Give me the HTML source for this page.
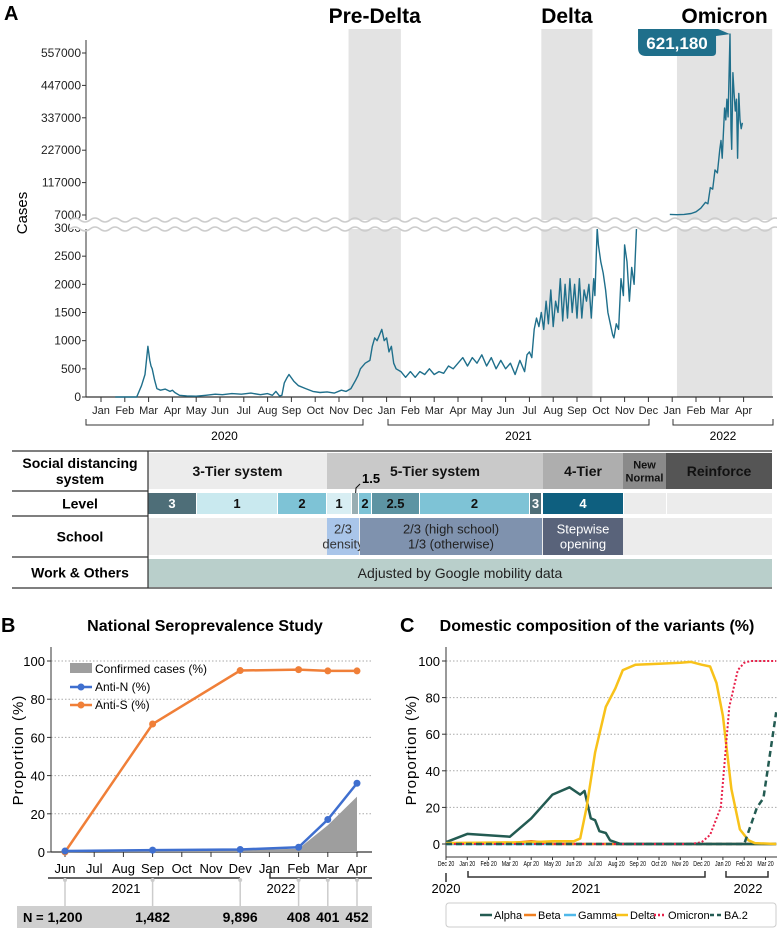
<!DOCTYPE html>
<html><head><meta charset="utf-8">
<style>
body{margin:0;background:#fff;}
svg{display:block;font-family:"Liberation Sans Narrow","Liberation Sans",sans-serif;}
.b{font-weight:bold;}
</style></head>
<body>
<svg id="fig" width="777" height="928" viewBox="0 0 777 928">
</svg>
<script>
// ---------- Panel A data ----------
const monthLabelsA = ["Jan","Feb","Mar","Apr","May","Jun","Jul","Aug","Sep","Oct","Nov","Dec","Jan","Feb","Mar","Apr","May","Jun","Jul","Aug","Sep","Oct","Nov","Dec","Jan","Feb","Mar","Apr"];
const lowTicks = [0,500,1000,1500,2000,2500,3000];
const highTicks = [7000,117000,227000,337000,447000,557000];
const casesLowIdx = [0.6,1.5,1.7,1.85,1.97,2.05,2.1,2.15,2.25,2.35,2.5,2.7,2.9,3.0,3.1,3.3,3.6,4.0,4.4,4.8,5.1,5.5,5.9,6.3,6.7,7.0,7.2,7.35,7.5,7.6,7.7,7.8,7.9,8.1,8.3,8.6,8.9,9.2,9.5,9.8,10.1,10.3,10.5,10.7,10.8,10.9,11.1,11.3,11.4,11.5,11.6,11.7,11.8,11.9,12.0,12.1,12.2,12.3,12.4,12.6,12.8,13.0,13.2,13.4,13.6,13.8,14.0,14.2,14.4,14.6,14.8,15.0,15.2,15.4,15.6,15.8,16.0,16.2,16.4,16.6,16.8,17.0,17.2,17.4,17.6,17.8,17.9,18.0,18.1,18.2,18.3,18.4,18.5,18.6,18.7,18.8,18.9,19.0,19.1,19.2,19.3,19.4,19.5,19.6,19.7,19.8,19.9,20.0,20.1,20.2,20.3,20.4,20.5,20.6,20.7,20.75,20.85,20.9,21.0,21.1,21.2,21.3,21.4,21.5,21.55,21.65,21.75,21.85,21.95,22.0,22.1,22.2,22.3,22.4,22.5];
const casesLowVal = [0,0,200,400,900,650,550,500,300,150,120,140,100,120,80,30,20,15,30,50,40,60,50,70,40,60,30,100,20,30,250,330,400,280,200,150,100,80,90,70,120,100,150,300,380,500,600,650,900,1050,1000,1100,1200,1000,1050,800,900,600,500,450,350,450,350,450,400,500,400,450,420,550,500,600,700,550,700,600,750,550,700,500,650,500,600,400,650,450,750,800,700,1200,1400,1250,1500,1200,1700,1300,1900,1250,1700,1500,2100,1350,2000,1400,2100,1500,2000,1400,2100,1400,1900,1700,2000,1400,2100,1800,3000,2700,2400,2200,1900,1500,1300,1100,1050,1300,1200,2100,1800,2700,2400,1700,2300,2000,3000];
const casesHighIdx = [23.9,24.2,24.5,24.8,25.0,25.2,25.4,25.5,25.6,25.7,25.8,25.9,26.0,26.05,26.1,26.2,26.25,26.3,26.35,26.43,26.47,26.5,26.55,26.6,26.65,26.7,26.75,26.8,26.85,26.9,26.95];
const casesHighVal = [9000,8000,9000,12000,18000,30000,50000,45000,100000,95000,160000,150000,230000,260000,200000,370000,330000,400000,340000,621180,300000,230000,490000,420000,360000,400000,200000,420000,330000,300000,320000];

// ---------- Panel B data ----------
const monthLabelsB = ["Jun","Jul","Aug","Sep","Oct","Nov","Dev","Jan","Feb","Mar","Apr"];
const surveyIdx = [0,3,6,8,9,10];
const antiS = [0,67,95,95.5,94.8,94.8];
const antiN = [0.5,1,1.3,2.5,17,36];
const confirmed = [0,0.5,1,1.7,14,29];
const sampleN = ["1,200","1,482","9,896","408","401","452"];
const yTicksB = [0,20,40,60,80,100];

// ---------- Panel C data ----------
const monthLabelsC = ["Dec 20","Jan 20","Feb 20","Mar 20","Apr 20","May 20","Jun 20","Jul 20","Aug 20","Sep 20","Oct 20","Nov 20","Dec 20","Jan 20","Feb 20","Mar 20"];
const alphaIdx = [0,1,3,4,5,5.8,6.3,6.5,6.8,7,7.2,7.5,7.7,8.2,15.5];
const alphaVal = [1,5.5,4,14,27,31,27,29,14,13,7,6,2,0,0];
const betaIdx = [0,3,4,4.5,5,15.5];
const betaVal = [0.5,0.5,1.5,1,0,0];
const gammaIdx = [0,15.5];
const gammaVal = [0,0];
const deltaIdx = [0,4,5,6,6.3,6.6,7.0,7.5,7.95,8.3,8.9,10,11,11.5,12,12.4,12.7,13,13.4,13.8,14.2,14.5,15.5];
const deltaVal = [0.5,1,1.5,1.5,3,20,50,75,85,95,98,98.5,99,99.5,98,97,88,70,30,8,2,0.5,0];
const omicronIdx = [0,11.5,12,12.4,12.9,13.3,13.7,14.0,14.3,15.5];
const omicronVal = [0,0,1,5,20,75,95,99,100,100];
const ba2Idx = [0,14.0,14.3,14.6,14.9,15.5];
const ba2Val = [0,0,10,20,25,72];
const yTicksC = [0,20,40,60,80,100];

const NS="http://www.w3.org/2000/svg";
const svg=document.getElementById('fig');
function mk(tag,attrs,parent){const e=document.createElementNS(NS,tag);for(const k in attrs)e.setAttribute(k,attrs[k]);(parent||svg).appendChild(e);return e;}
function txt(s,x,y,attrs,parent){const e=mk('text',Object.assign({x:x,y:y},attrs||{}),parent);e.textContent=s;return e;}

// ===== Panel A =====
const xA=i=>101+i*23.8;
const yLow=v=>397-v*(169/3000);
const yHigh=v=>215-(v-7000)*(162/550000);
const gA=mk('g',{});


let t=txt('A',4,20,{'font-size':20,'font-weight':'bold'},gA);

// bands
const bands=[[10.4,12.6,'Pre-Delta'],[18.5,20.65,'Delta'],[24.2,28.2,'Omicron']];
bands.forEach(b=>{
  const x1=xA(b[0]),x2=Math.min(xA(b[1]),773);
  const r=mk('rect',{x:x1,y:29,width:x2-x1,height:368,fill:'#e3e3e3'},gA);
  
  
  const l=txt(b[2],(x1+x2)/2,23,{'font-size':21,'font-weight':'bold','text-anchor':'middle'},gA);
  
  
});
// axes
mk('line',{x1:86,y1:40,x2:86,y2:397,stroke:'#333','stroke-width':1},gA);
mk('line',{x1:86,y1:397,x2:773,y2:397,stroke:'#333','stroke-width':1.2},gA);
lowTicks.forEach(v=>{const y=yLow(v);mk('line',{x1:82,y1:y,x2:86,y2:y,stroke:'#333'},gA);
  const e=txt(String(v),81,y+4,{'font-size':12,'text-anchor':'end',fill:'#222'},gA);});
highTicks.forEach(v=>{const y=yHigh(v);mk('line',{x1:82,y1:y,x2:86,y2:y,stroke:'#333'},gA);
  const e=txt(String(v),81,y+4,{'font-size':12,'text-anchor':'end',fill:'#222'},gA);});
t=txt('Cases',0,0,{'font-size':15,'text-anchor':'middle',transform:'translate(27,213) rotate(-90)'},gA);

monthLabelsA.forEach((m,i)=>{const x=xA(i);mk('line',{x1:x,y1:397,x2:x,y2:402,stroke:'#333'},gA);
  const e=txt(m,x,414,{'font-size':11,'text-anchor':'middle',fill:'#222'},gA);});
[[86,363,'2020'],[388,649,'2021'],[673,773,'2022']].forEach(b=>{
  mk('path',{d:`M${b[0]},419 V425 H${b[1]} V419`,fill:'none',stroke:'#333','stroke-width':1},gA);
  const e=txt(b[2],(b[0]+b[1])/2,440,{'font-size':12,'text-anchor':'middle'},gA);
  });
// lines
let d='';casesLowIdx.forEach((v,i)=>{d+=(i?'L':'M')+xA(v).toFixed(1)+','+yLow(casesLowVal[i]).toFixed(1);});
const ll=mk('path',{d:d,fill:'none',stroke:'#1f6f8b','stroke-width':1.4,'stroke-linejoin':'round'},gA);

d='';casesHighIdx.forEach((v,i)=>{d+=(i?'L':'M')+xA(v).toFixed(1)+','+yHigh(casesHighVal[i]).toFixed(1);});
const lh=mk('path',{d:d,fill:'none',stroke:'#1f6f8b','stroke-width':1.4,'stroke-linejoin':'round'},gA);

// break
let w1='M70,220',w2='M70,229';
for(let x=70;x<777;x+=20){w1+=` Q${x+5},216 ${x+10},220 T${x+20},220`;w2+=` Q${x+5},225 ${x+10},229 T${x+20},229`;}
mk('rect',{x:70,y:220,width:707,height:9,fill:'#fff'},gA);
const br=mk('g',{},gA);
mk('path',{d:w1,fill:'none',stroke:'#ccc','stroke-width':1.5},br);
mk('path',{d:w2,fill:'none',stroke:'#ccc','stroke-width':1.5},br);
// callout
const pk=casesHighIdx[casesHighVal.indexOf(Math.max(...casesHighVal))];
const px=xA(pk),py=yHigh(Math.max(...casesHighVal));
const co=mk('g',{},gA);
mk('path',{d:`M${px-92},29 H${px-12} L${px},${py} L${px-14},36 V52 Q${px-14},56 ${px-18},56 H${px-84} Q${px-92},56 ${px-92},48 Z`,fill:'#1f6f8b'},co);
txt('621,180',px-53,49,{'font-size':17,'font-weight':'bold',fill:'#fff','text-anchor':'middle'},co);

// ===== Table =====
const gT=mk('g',{});
const rows=[[451,491,'Social distancing|system'],[491,516,'Level'],[516,557,'School'],[557,588,'Work & Others']];
rows.forEach(r=>{const parts=r[2].split('|');const cy=(r[0]+r[1])/2;
  parts.forEach((p,k)=>{const e=txt(p,80,cy+5+(k-(parts.length-1)/2)*16,{'font-size':14,'font-weight':'bold','text-anchor':'middle'},gT);
  });});
function cell(x1,x2,y1,y2,fill,label,col,fs,name){const r=mk('rect',{x:x1,y:y1,width:x2-x1,height:y2-y1,fill:fill},gT);
  
  if(label){const ls=label.split('|');ls.forEach((s,k)=>{txt(s,(x1+x2)/2,(y1+y2)/2+fs*0.36+(k-(ls.length-1)/2)*(fs+2),{'font-size':fs,'font-weight':col[1]?'bold':'normal',fill:col[0],'text-anchor':'middle'},gT);});}}
cell(148,327,453,489,'#ececec','3-Tier system',['#111',1],14,'tier-3-cell');
cell(327,543,453,489,'#c9c9c9','5-Tier system',['#111',1],14,'tier-5-cell');
cell(543,623,453,489,'#aeaeae','4-Tier',['#111',1],14,'tier-4-cell');
cell(623,666,453,489,'#8a8a8a','New|Normal',['#111',1],11,'new-normal-cell');
cell(666,772,453,489,'#555555','Reinforce',['#111',1],14,'reinforce-cell');
txt('1.5',362,483,{'font-size':13,'font-weight':'bold'},gT);
mk('path',{d:'M355,502 L356,488 L360,484',fill:'none',stroke:'#111','stroke-width':1},gT);
const lv=[[148,196,'#4e6e78','3','#fff'],[197,277,'#c9e9ef','1','#111'],[278,326,'#7ec3d6','2','#111'],[327,351,'#d8eef3','1','#111'],[352,358,'#98aeb3','',''],[359,371,'#7ec3d6','2','#111'],[372,419,'#5d94a3','2.5','#111'],[420,529,'#7ec3d6','2','#111'],[530,541,'#4e6e78','3','#fff'],[543,623,'#0e5f7f','4','#fff'],[624,666,'#ececec','',''],[667,772,'#ececec','','']];
lv.forEach(c=>cell(c[0],c[1],493,514,c[2],c[3],[c[4],1],13,'level-cell'));
cell(148,772,518,555,'#ececec','',['#111',0],13,'school-bg');
cell(327,359,518,555,'#a9c5e9','2/3|density',['#333',0],13,'school-density-cell');
cell(360,542,518,555,'#7f92ae','2/3 (high school)|1/3 (otherwise)',['#222',0],13,'school-hybrid-cell');
cell(543,623,518,555,'#59637a','Stepwise|opening',['#fff',0],13,'school-stepwise-cell');
cell(624,666,518,555,'#ececec','',['#111',0],13,'school-blank');
cell(148,772,559,587,'#b9cfcb','Adjusted by Google mobility data',['#222',0],14,'work-cell');
[451,491,516,557,588].forEach((y,i)=>mk('line',{x1:12,y1:y,x2:148,y2:y,stroke:'#333','stroke-width':1.2},gT));
mk('line',{x1:148,y1:451,x2:772,y2:451,stroke:'#333','stroke-width':1.2},gT);
mk('line',{x1:148,y1:588,x2:772,y2:588,stroke:'#333','stroke-width':1.2},gT);
mk('line',{x1:148,y1:451,x2:148,y2:588,stroke:'#333','stroke-width':1.2},gT);

// ===== Panel B =====
const gB=mk('g',{});
const xB=m=>65+m*29.2, yB=v=>852-v*1.91;
t=txt('B',1,632,{'font-size':20,'font-weight':'bold'},gB);
t=txt('National  Seroprevalence  Study',205,631,{'font-size':16,'font-weight':'bold','text-anchor':'middle'},gB);
yTicksB.forEach(v=>{const y=yB(v);if(v>0)mk('line',{x1:51,y1:y,x2:372,y2:y,stroke:'#aaa','stroke-dasharray':'1.5,2'},gB);
  mk('line',{x1:47,y1:y,x2:51,y2:y,stroke:'#333'},gB);
  const e=txt(String(v),45,y+5,{'font-size':13,'text-anchor':'end'},gB);});
mk('line',{x1:51,y1:647,x2:51,y2:852,stroke:'#333'},gB);
mk('line',{x1:51,y1:852,x2:372,y2:852,stroke:'#333','stroke-width':1.2},gB);
t=txt('Proportion (%)',0,0,{'font-size':15,'text-anchor':'middle',transform:'translate(23,750) rotate(-90)','letter-spacing':'1'},gB);
monthLabelsB.forEach((m,i)=>{const x=xB(i);mk('line',{x1:x,y1:852,x2:x,y2:857,stroke:'#333'},gB);
  const e=txt(m,x,873,{'font-size':13,'text-anchor':'middle'},gB);});
mk('line',{x1:48,y1:878,x2:240,y2:878,stroke:'#333','stroke-width':1.5},gB);
mk('path',{d:'M270,872 V878 H372',fill:'none',stroke:'#333','stroke-width':1.5},gB);
txt('2021',126,893,{'font-size':13,'text-anchor':'middle'},gB);
txt('2022',281,893,{'font-size':13,'text-anchor':'middle'},gB);
const nr=mk('rect',{x:17,y:906,width:355,height:22,fill:'#cfcfcf'},gB);
txt('N =',23,922,{'font-size':13,'font-weight':'bold'},gB);
surveyIdx.forEach((m,i)=>{const x=xB(m);mk('line',{x1:x,y1:878,x2:x,y2:906,stroke:'#ccc','stroke-width':1.5},gB);
  mk('circle',{cx:x,cy:880,r:2,fill:'#ccc'},gB);
  const e=txt(sampleN[i],x,922,{'font-size':14,'font-weight':'bold','text-anchor':'middle'},gB);});
d='M'+xB(surveyIdx[0])+','+yB(0);surveyIdx.forEach((m,i)=>{d+='L'+xB(m)+','+yB(confirmed[i]);});d+='L'+xB(surveyIdx[surveyIdx.length-1])+','+yB(0)+'Z';
const ar=mk('path',{d:d,fill:'#9e9e9e'},gB);
function serB(arr,col,name){let dd='';surveyIdx.forEach((m,i)=>{dd+=(i?'L':'M')+xB(m)+','+yB(arr[i]);});
  const p=mk('path',{d:dd,fill:'none',stroke:col,'stroke-width':2.5},gB);
  surveyIdx.forEach((m,i)=>{const c=mk('circle',{cx:xB(m),cy:yB(arr[i]),r:3.5,fill:col},gB);});}
serB(antiS,'#f07f38','anti-s');serB(antiN,'#3f6fcf','anti-n');
const lgB=mk('g',{},gB);
mk('rect',{x:70,y:663,width:22,height:10,fill:'#9e9e9e'},lgB);txt('Confirmed cases (%)',95,673,{'font-size':12},lgB);
mk('line',{x1:70,y1:687,x2:92,y2:687,stroke:'#3f6fcf','stroke-width':2.5},lgB);mk('circle',{cx:81,cy:687,r:3.5,fill:'#3f6fcf'},lgB);txt('Anti-N (%)',95,691,{'font-size':12},lgB);
mk('line',{x1:70,y1:705,x2:92,y2:705,stroke:'#f07f38','stroke-width':2.5},lgB);mk('circle',{cx:81,cy:705,r:3.5,fill:'#f07f38'},lgB);txt('Anti-S (%)',95,709,{'font-size':12},lgB);

// ===== Panel C =====
const gC=mk('g',{});
const xC=i=>446+i*21.3, yC=v=>844-v*1.83;
t=txt('C',400,632,{'font-size':20,'font-weight':'bold'},gC);
t=txt('Domestic composition of the variants (%)',597,631,{'font-size':16,'font-weight':'bold','text-anchor':'middle'},gC);
yTicksC.forEach(v=>{const y=yC(v);if(v>0)mk('line',{x1:446,y1:y,x2:777,y2:y,stroke:'#aaa','stroke-dasharray':'1.5,2'},gC);
  mk('line',{x1:442,y1:y,x2:446,y2:y,stroke:'#333'},gC);
  const e=txt(String(v),440,y+5,{'font-size':13,'text-anchor':'end'},gC);});
mk('line',{x1:446,y1:647,x2:446,y2:857,stroke:'#333'},gC);
mk('line',{x1:446,y1:857,x2:777,y2:857,stroke:'#333'},gC);
t=txt('Proportion (%)',0,0,{'font-size':15,'text-anchor':'middle',transform:'translate(416,750) rotate(-90)','letter-spacing':'1'},gC);
monthLabelsC.forEach((m,i)=>{const x=xC(i);mk('line',{x1:x,y1:857,x2:x,y2:860,stroke:'#333'},gC);
  const e=txt(m,x,866,{'font-size':7,'text-anchor':'middle',transform:`translate(${x},866) scale(0.75,1) translate(${-x},-866)`},gC);});
mk('line',{x1:446,y1:873,x2:446,y2:882,stroke:'#333','stroke-width':1.5},gC);
mk('path',{d:'M468,871 V877 H705 V871',fill:'none',stroke:'#333','stroke-width':1.5},gC);
mk('path',{d:'M726,871 V877 H768 V871',fill:'none',stroke:'#333','stroke-width':1.5},gC);
txt('2020',446,893,{'font-size':13,'text-anchor':'middle'},gC);
txt('2021',586,893,{'font-size':13,'text-anchor':'middle'},gC);
txt('2022',748,893,{'font-size':13,'text-anchor':'middle'},gC);
function serC(ix,vals,col,dash,w,name){let dd='';ix.forEach((v,i)=>{dd+=(i?'L':'M')+Math.min(xC(v),777).toFixed(1)+','+yC(vals[i]).toFixed(1);});
  const p=mk('path',{d:dd,fill:'none',stroke:col,'stroke-width':w,'stroke-dasharray':dash,'stroke-linejoin':'round'},gC);
  }
serC(gammaIdx,gammaVal,'#4fb8ea','none',2.5,'gamma');
serC(betaIdx,betaVal,'#f07f20','none',2.5,'beta');
serC(alphaIdx,alphaVal,'#235b52','none',2.5,'alpha');
serC(deltaIdx,deltaVal,'#f8c21a','none',2.5,'delta');
serC(omicronIdx,omicronVal,'#e8204a','2,2',2,'omicron');
serC(ba2Idx,ba2Val,'#235b52','6,4',2.5,'ba2');
const lgC=mk('g',{},gC);
mk('rect',{x:446,y:903,width:330,height:24,rx:3,fill:'#fff',stroke:'#ccc'},lgC);
[['Alpha','#235b52','none',480],['Beta','#f07f20','none',524],['Gamma','#4fb8ea','none',564],['Delta','#f8c21a','none',616],['Omicron','#e8204a','2,2',654],['BA.2','#235b52','4,3',710]].forEach(l=>{
  const e=mk('line',{x1:l[3],y1:915,x2:l[3]+12,y2:915,stroke:l[1],'stroke-width':2.5,'stroke-dasharray':l[2]},lgC);
  
  txt(l[0],l[3]+14,919,{'font-size':11},lgC);});
</script>
</body></html>
